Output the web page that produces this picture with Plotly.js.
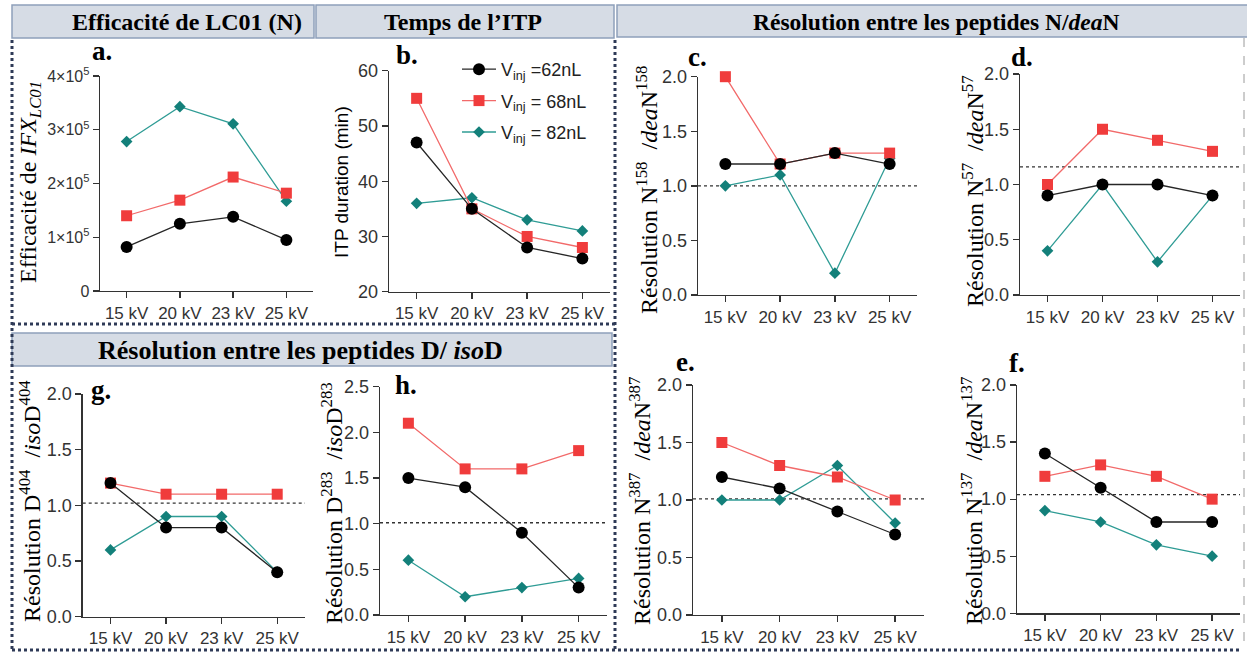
<!DOCTYPE html>
<html>
<head>
<meta charset="utf-8">
<script src="https://cdn.plot.ly/plotly-3.0.1.min.js"></script>
<style>html,body{margin:0;padding:0;background:#fff}#chart{width:1247px;height:652px}</style>
</head>
<body>
<div id="chart"></div>
<script>
// ---------- DATA ----------
const categories = ['15 kV', '20 kV', '23 kV', '25 kV'];
const seriesNames = ['V<sub>inj</sub> =62nL', 'V<sub>inj</sub> = 68nL', 'V<sub>inj</sub> = 82nL'];

// a. Efficacité de LC01 (N)
const effic62 = [0.82e5, 1.25e5, 1.38e5, 0.95e5];
const effic68 = [1.40e5, 1.69e5, 2.12e5, 1.82e5];
const effic82 = [2.78e5, 3.43e5, 3.11e5, 1.67e5];
const efficTickVals = [0, 1e5, 2e5, 3e5, 4e5];
const efficTickText = ['0', '1×10<sup>5</sup>', '2×10<sup>5</sup>', '3×10<sup>5</sup>', '4×10<sup>5</sup>'];

// b. Temps de l'ITP (min)
const itp62 = [47, 35, 28, 26];
const itp68 = [55, 35, 30, 28];
const itp82 = [36, 37, 33, 31];

// c. N158/deaN158
const resC62 = [1.2, 1.2, 1.3, 1.2];
const resC68 = [2.0, 1.2, 1.3, 1.3];
const resC82 = [1.0, 1.1, 0.2, 1.25];
// d. N57/deaN57
const resD62 = [0.9, 1.0, 1.0, 0.9];
const resD68 = [1.0, 1.5, 1.4, 1.3];
const resD82 = [0.4, 1.0, 0.3, 0.9];
// e. N387/deaN387
const resE62 = [1.2, 1.1, 0.9, 0.7];
const resE68 = [1.5, 1.3, 1.2, 1.0];
const resE82 = [1.0, 1.0, 1.3, 0.8];
// f. N137/deaN137
const resF62 = [1.4, 1.1, 0.8, 0.8];
const resF68 = [1.2, 1.3, 1.2, 1.0];
const resF82 = [0.9, 0.8, 0.6, 0.5];
// g. D404/isoD404
const resG62 = [1.2, 0.8, 0.8, 0.4];
const resG68 = [1.2, 1.1, 1.1, 1.1];
const resG82 = [0.6, 0.9, 0.9, 0.4];
// h. D283/isoD283
const resH62 = [1.5, 1.4, 0.9, 0.3];
const resH68 = [2.1, 1.6, 1.6, 1.8];
const resH82 = [0.6, 0.2, 0.3, 0.4];

// reference (dotted) levels per resolution panel: c, d, e, f, g, h
const refLevels = [1.0, 1.16, 1.01, 1.04, 1.02, 1.01];

// ---------- LAYOUT HELPERS ----------
const W = 1247, H = 652;
const px = x => x / W;
const py = y => 1 - y / H;

const SERIF = '"Liberation Serif", "Times New Roman", serif';
const SANS = '"Liberation Sans", Arial, sans-serif';

const styles = [
  {line: '#262626', marker: '#000000', symbol: 'circle', size: 12},
  {line: '#f26a6a', marker: '#f03c3c', symbol: 'square', size: 11},
  {line: '#2f9c95', marker: '#13807a', symbol: 'diamond', size: 9}
];

// panel geometry: [xLeft, xRight, yTop, yBottom] in pixels
const panels = [
  {id: '',  box: [100, 313, 76, 291],    range: [0, 4e5],  data: [effic62, effic68, effic82]},
  {id: '2', box: [389, 610, 70.7, 291.7], range: [20, 60], data: [itp62, itp68, itp82]},
  {id: '3', box: [698, 917, 76.7, 295],  range: [0, 2],    data: [resC62, resC68, resC82]},
  {id: '4', box: [1020, 1240, 74, 295],  range: [0, 2],    data: [resD62, resD68, resD82]},
  {id: '5', box: [693, 924, 385, 615],   range: [0, 2],    data: [resE62, resE68, resE82]},
  {id: '6', box: [1017, 1240, 385, 613.3], range: [0, 2],  data: [resF62, resF68, resF82]},
  {id: '7', box: [82.7, 305, 394, 616.7], range: [0, 2],   data: [resG62, resG68, resG82]},
  {id: '8', box: [380, 607, 386.7, 615], range: [0, 2.5],  data: [resH62, resH68, resH82]}
];

const traces = [];
const layout = {
  width: W, height: H,
  margin: {l: 0, r: 0, t: 0, b: 0},
  paper_bgcolor: '#ffffff',
  plot_bgcolor: 'rgba(0,0,0,0)',
  font: {family: SANS, color: '#333333'},
  showlegend: true,
  legend: {
    x: px(457), y: py(51), xanchor: 'left', yanchor: 'top',
    bgcolor: 'rgba(0,0,0,0)', borderwidth: 0,
    font: {family: SANS, size: 18, color: '#222222'},
    itemwidth: 34, tracegroupgap: 5
  },
  shapes: [],
  annotations: []
};

panels.forEach((p, pi) => {
  const xa = 'x' + p.id, ya = 'y' + p.id;
  // draw order: 82nL, 68nL, 62nL (62nL on top)
  [2, 1, 0].forEach(si => {
    const st = styles[si];
    traces.push({
      type: 'scatter', mode: 'lines+markers',
      x: categories, y: p.data[si],
      xaxis: xa, yaxis: ya,
      name: seriesNames[si],
      legendgroup: 's' + si,
      legendrank: si + 1,
      showlegend: pi === 1,
      cliponaxis: false,
      line: {color: st.line, width: 1.3},
      marker: {color: st.marker, symbol: st.symbol, size: st.size, line: {width: 0}}
    });
  });
  const axisCommon = {
    showline: true, linecolor: '#333333', linewidth: 1.3,
    ticks: 'outside', ticklen: 6, tickwidth: 1.3, tickcolor: '#333333',
    showgrid: false, zeroline: false, fixedrange: true
  };
  const xKey = 'xaxis' + p.id, yKey = 'yaxis' + p.id;
  layout[xKey] = Object.assign({}, axisCommon, {
    domain: [px(p.box[0]), px(p.box[1])],
    anchor: ya, type: 'category', range: [-0.5, 3.5],
    tickfont: {family: SANS, size: 17, color: '#333333'}
  });
  const yax = Object.assign({}, axisCommon, {
    domain: [py(p.box[3]), py(p.box[2])],
    anchor: xa, range: p.range,
    tickfont: {family: SANS, size: 18, color: '#333333'}
  });
  if (pi === 0) {
    yax.tickmode = 'array'; yax.tickvals = efficTickVals; yax.ticktext = efficTickText;
    yax.tickfont = {family: SANS, size: 16, color: '#333333'};
  } else if (pi === 1) {
    yax.dtick = 10; yax.tick0 = 20;
  } else {
    yax.dtick = 0.5; yax.tick0 = 0; yax.tickformat = '.1f';
  }
  layout[yKey] = yax;
  if (pi >= 2) {
    layout.shapes.push({
      type: 'line', xref: 'x' + p.id + ' domain', yref: ya,
      x0: 0, x1: 1, y0: refLevels[pi - 2], y1: refLevels[pi - 2],
      line: {color: '#333333', width: 1.3, dash: 'dot'}, layer: 'below'
    });
  }
});

// header boxes
const headerStyle = {fillcolor: '#d6dce5', line: {color: '#8ea0ba', width: 1.5}};
[[12, 5, 314, 38], [316, 5, 614, 38], [617, 5, 1252, 37], [12, 333, 612, 366]].forEach(b => {
  layout.shapes.push(Object.assign({type: 'rect', xref: 'paper', yref: 'paper',
    x0: px(b[0]), x1: px(b[2]), y0: py(b[3]), y1: py(b[1]), layer: 'below'}, headerStyle));
});
// dotted frames
const dotLine = {color: '#2e3a57', width: 3, dash: 'dot'};
[[12, 40, 12, 650], [615, 40, 615, 650], [12, 324, 615, 324], [12, 650, 1240, 650]].forEach(l => {
  layout.shapes.push({type: 'line', xref: 'paper', yref: 'paper',
    x0: px(l[0]), x1: px(l[2]), y0: py(l[1]), y1: py(l[3]), line: dotLine});
});
layout.shapes.push({type: 'line', xref: 'paper', yref: 'paper',
  x0: px(1244), x1: px(1244), y0: py(38), y1: py(650),
  line: {color: '#9a9a9a', width: 1, dash: 'dash'}});

// header texts
const hdr = (text, x, y, size) => ({text, x: px(x), y: py(y), xref: 'paper', yref: 'paper',
  showarrow: false, xanchor: 'center', yanchor: 'middle',
  font: {family: SERIF, size: size, color: '#000000'}});
layout.annotations.push(hdr('<b>Efficacité de LC01 (N)</b>', 187, 22, 24));
layout.annotations.push(hdr('<b>Temps de l’ITP</b>', 463, 22, 24));
layout.annotations.push(hdr('<b>Résolution entre les peptides N/<i>dea</i>N</b>', 936, 22, 23.5));
layout.annotations.push(hdr('<b>Résolution entre les peptides D/ <i>iso</i>D</b>', 300, 350, 26));

// panel letters
[['a.', 102, 51], ['b.', 407, 55], ['c.', 697, 57], ['d.', 1022, 57],
 ['e.', 685, 362], ['f.', 1017, 363], ['g.', 101, 390], ['h.', 406, 385]].forEach(l => {
  layout.annotations.push({text: '<b>' + l[0] + '</b>', x: px(l[1]), y: py(l[2]),
    xref: 'paper', yref: 'paper', showarrow: false, xanchor: 'center', yanchor: 'middle',
    font: {family: SERIF, size: 27, color: '#000000'}});
});

// y-axis titles
const NB = '\u00a0';
const ytitle = (text, x, y, font) => ({text, x: px(x), y: py(y), xref: 'paper', yref: 'paper',
  showarrow: false, textangle: -90, xanchor: 'center', yanchor: 'middle', font});
const serifT = {family: SERIF, size: 24, color: '#000000'};
layout.annotations.push(ytitle('Efficacité de <i>IFX</i><sub><i>LC01</i></sub>', 30, 182, serifT));
layout.annotations.push(ytitle('ITP duration (min)', 342, 182, {family: SANS, size: 19, color: '#000000'}));
layout.annotations.push(ytitle('Résolution N<sup>158</sup>' + NB + NB + '/<i>dea</i>N<sup>158</sup>', 647, 190, serifT));
layout.annotations.push(ytitle('Résolution N<sup>57</sup>' + NB + NB + '/<i>dea</i>N<sup>57</sup>', 973, 191, serifT));
layout.annotations.push(ytitle('Résolution N<sup>387</sup>' + NB + NB + '/<i>dea</i>N<sup>387</sup>', 640, 501, serifT));
layout.annotations.push(ytitle('Résolution N<sup>137</sup>' + NB + NB + '/<i>dea</i>N<sup>137</sup>', 972, 501, serifT));
layout.annotations.push(ytitle('Résolution D<sup>404</sup>' + NB + NB + '/<i>iso</i>D<sup>404</sup>', 30, 501, serifT));
layout.annotations.push(ytitle('Résolution D<sup>283</sup>' + NB + NB + '/<i>iso</i>D<sup>283</sup>', 332, 503, serifT));

Plotly.newPlot('chart', traces, layout, {displayModeBar: false, staticPlot: true});
</script>
</body>
</html>
